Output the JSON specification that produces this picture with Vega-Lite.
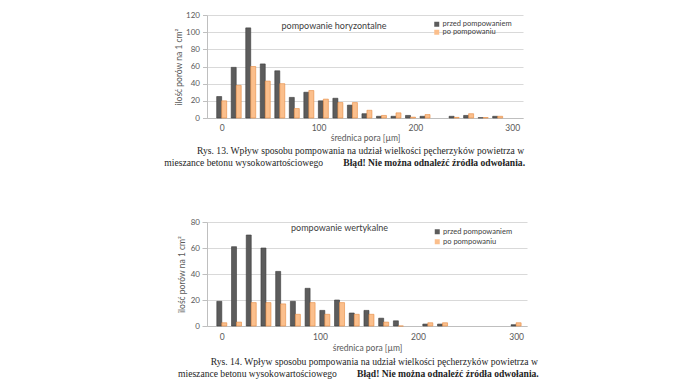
{
  "$schema": "https://vega.github.io/schema/vega-lite/v6.json",
  "background": "white",
  "padding": {"left": 164, "top": 11, "right": 5, "bottom": 5},
  "resolve": {"scale": {"color": "independent"}, "legend": {"color": "independent"}},
  "datasets": {
    "top": [
      {"d": 0, "s": "przed pompowaniem", "v": 25}, {"d": 0, "s": "po pompowaniu", "v": 20},
      {"d": 15, "s": "przed pompowaniem", "v": 59}, {"d": 15, "s": "po pompowaniu", "v": 38},
      {"d": 30, "s": "przed pompowaniem", "v": 105}, {"d": 30, "s": "po pompowaniu", "v": 60},
      {"d": 45, "s": "przed pompowaniem", "v": 63}, {"d": 45, "s": "po pompowaniu", "v": 43},
      {"d": 60, "s": "przed pompowaniem", "v": 55}, {"d": 60, "s": "po pompowaniu", "v": 40},
      {"d": 75, "s": "przed pompowaniem", "v": 24}, {"d": 75, "s": "po pompowaniu", "v": 11},
      {"d": 90, "s": "przed pompowaniem", "v": 30}, {"d": 90, "s": "po pompowaniu", "v": 32},
      {"d": 105, "s": "przed pompowaniem", "v": 20}, {"d": 105, "s": "po pompowaniu", "v": 22},
      {"d": 120, "s": "przed pompowaniem", "v": 23}, {"d": 120, "s": "po pompowaniu", "v": 18},
      {"d": 135, "s": "przed pompowaniem", "v": 15}, {"d": 135, "s": "po pompowaniu", "v": 18},
      {"d": 150, "s": "przed pompowaniem", "v": 5}, {"d": 150, "s": "po pompowaniu", "v": 9},
      {"d": 165, "s": "przed pompowaniem", "v": 2}, {"d": 165, "s": "po pompowaniu", "v": 3},
      {"d": 180, "s": "przed pompowaniem", "v": 2}, {"d": 180, "s": "po pompowaniu", "v": 6},
      {"d": 195, "s": "przed pompowaniem", "v": 3}, {"d": 195, "s": "po pompowaniu", "v": 1},
      {"d": 210, "s": "przed pompowaniem", "v": 2}, {"d": 210, "s": "po pompowaniu", "v": 4},
      {"d": 240, "s": "przed pompowaniem", "v": 2}, {"d": 240, "s": "po pompowaniu", "v": 0.7},
      {"d": 255, "s": "przed pompowaniem", "v": 3}, {"d": 255, "s": "po pompowaniu", "v": 5},
      {"d": 270, "s": "przed pompowaniem", "v": 0.4}, {"d": 270, "s": "po pompowaniu", "v": 0.5},
      {"d": 285, "s": "przed pompowaniem", "v": 2}, {"d": 285, "s": "po pompowaniu", "v": 2}
    ],
    "bottom": [
      {"d": 0, "s": "przed pompowaniem", "v": 19}, {"d": 0, "s": "po pompowaniu", "v": 2.5},
      {"d": 15, "s": "przed pompowaniem", "v": 61}, {"d": 15, "s": "po pompowaniu", "v": 3},
      {"d": 30, "s": "przed pompowaniem", "v": 70}, {"d": 30, "s": "po pompowaniu", "v": 18},
      {"d": 45, "s": "przed pompowaniem", "v": 60}, {"d": 45, "s": "po pompowaniu", "v": 18},
      {"d": 60, "s": "przed pompowaniem", "v": 42}, {"d": 60, "s": "po pompowaniu", "v": 17},
      {"d": 75, "s": "przed pompowaniem", "v": 19}, {"d": 75, "s": "po pompowaniu", "v": 9},
      {"d": 90, "s": "przed pompowaniem", "v": 29}, {"d": 90, "s": "po pompowaniu", "v": 18},
      {"d": 105, "s": "przed pompowaniem", "v": 12}, {"d": 105, "s": "po pompowaniu", "v": 9},
      {"d": 120, "s": "przed pompowaniem", "v": 20}, {"d": 120, "s": "po pompowaniu", "v": 18},
      {"d": 135, "s": "przed pompowaniem", "v": 10}, {"d": 135, "s": "po pompowaniu", "v": 9},
      {"d": 150, "s": "przed pompowaniem", "v": 12}, {"d": 150, "s": "po pompowaniu", "v": 9},
      {"d": 165, "s": "przed pompowaniem", "v": 6}, {"d": 165, "s": "po pompowaniu", "v": 3},
      {"d": 180, "s": "przed pompowaniem", "v": 4}, {"d": 180, "s": "po pompowaniu", "v": 0},
      {"d": 210, "s": "przed pompowaniem", "v": 1.5}, {"d": 210, "s": "po pompowaniu", "v": 2.5},
      {"d": 225, "s": "przed pompowaniem", "v": 1.5}, {"d": 225, "s": "po pompowaniu", "v": 2.5},
      {"d": 300, "s": "przed pompowaniem", "v": 1}, {"d": 300, "s": "po pompowaniu", "v": 2.5}
    ],
    "cap13": [
      {"line": 1, "part": "a", "t": "Rys. 13. Wpływ sposobu pompowania na udział wielkości pęcherzyków powietrza w"},
      {"line": 2, "part": "b", "t": "mieszance betonu wysokowartościowego"},
      {"line": 2, "part": "c", "t": "Błąd! Nie można odnaleźć źródła odwołania."}
    ],
    "cap14": [
      {"line": 1, "part": "a", "t": "Rys. 14. Wpływ sposobu pompowania na udział wielkości pęcherzyków powietrza w"},
      {"line": 2, "part": "b", "t": "mieszance betonu wysokowartościowego"},
      {"line": 2, "part": "c", "t": "Błąd! Nie można odnaleźć źródła odwołania."}
    ]
  },
  "spacing": 49,
  "vconcat": [
    {
      "spacing": 3,
      "vconcat": [
        {
          "width": 316,
          "height": 103,
          "data": {"name": "top"},
          "layer": [
            {
              "transform": [{"filter": "datum.s == 'przed pompowaniem'"}],
              "mark": {"type": "bar", "orient": "vertical", "size": 5, "xOffset": -2.5, "stroke": "#3a3a3a", "strokeWidth": 0.6},
              "encoding": {
                "x": {"field": "d", "type": "quantitative",
                  "scale": {"domain": [-10, 306], "nice": false, "zero": false},
                  "axis": {"values": [0, 100, 200, 300], "grid": false, "ticks": false, "tickSize": 0, "labelPadding": 5.75, "labelFlush": false, "title": "średnica pora [µm]", "titlePadding": 0.75}},
                "y": {"field": "v", "type": "quantitative",
                  "scale": {"domain": [0, 120], "nice": false},
                  "axis": {"values": [0, 20, 40, 60, 80, 100, 120], "grid": true, "tickSize": 4.5, "labelPadding": 3, "labelFontSize": 8, "labelOverlap": false, "title": "ilość porów na 1 cm²", "titlePadding": 2.5}},
                "color": {"field": "s", "type": "nominal",
                  "scale": {"domain": ["przed pompowaniem", "po pompowaniu"], "range": ["#5c5c5c", "#fbbf8c"]},
                  "legend": {"title": null, "orient": "none", "legendX": 226, "legendY": 5.5, "rowPadding": -3, "labelFontSize": 7.5}}
              }
            },
            {
              "transform": [{"filter": "datum.s == 'po pompowaniu'"}],
              "mark": {"type": "bar", "orient": "vertical", "size": 5, "xOffset": 2.5, "stroke": "#e58a40", "strokeWidth": 0.6},
              "encoding": {
                "x": {"field": "d", "type": "quantitative",
                  "scale": {"domain": [-10, 306], "nice": false, "zero": false},
                  "axis": {"values": [0, 100, 200, 300], "grid": false, "ticks": false, "tickSize": 0, "labelPadding": 5.75, "labelFlush": false, "title": "średnica pora [µm]", "titlePadding": 0.75}},
                "y": {"field": "v", "type": "quantitative",
                  "scale": {"domain": [0, 120], "nice": false},
                  "axis": {"values": [0, 20, 40, 60, 80, 100, 120], "grid": true, "tickSize": 4.5, "labelPadding": 3, "labelFontSize": 8, "labelOverlap": false, "title": "ilość porów na 1 cm²", "titlePadding": 2.5}},
                "color": {"field": "s", "type": "nominal"}
              }
            },
            {
              "data": {"values": [{"t": "pompowanie horyzontalne"}]},
              "mark": {"type": "text", "font": "Lato", "fontSize": 9, "color": "#404040", "baseline": "middle", "align": "center"},
              "encoding": {
                "x": {"datum": 116, "type": "quantitative",
                  "scale": {"domain": [-10, 306], "nice": false, "zero": false},
                  "axis": {"values": [0, 100, 200, 300], "grid": false, "ticks": false, "tickSize": 0, "labelPadding": 5.75, "labelFlush": false, "title": "średnica pora [µm]", "titlePadding": 0.75}},
                "y": {"datum": 107, "type": "quantitative",
                  "scale": {"domain": [0, 120], "nice": false},
                  "axis": {"values": [0, 20, 40, 60, 80, 100, 120], "grid": true, "tickSize": 4.5, "labelPadding": 3, "labelFontSize": 8, "labelOverlap": false, "title": "ilość porów na 1 cm²", "titlePadding": 2.5}},
                "text": {"field": "t", "type": "nominal"}
              }
            }
          ]
        },
        {
          "width": 330,
          "height": 24,
          "data": {"name": "cap13"},
          "encoding": {"y": {"field": "line", "type": "ordinal", "axis": null}, "text": {"field": "t"}},
          "layer": [
            {"transform": [{"filter": "datum.part == 'a'"}], "mark": {"type": "text", "align": "left", "font": "Liberation Serif", "fontSize": 9.6, "color": "#1e1e1e"},
              "encoding": {"x": {"datum": -10, "type": "quantitative", "scale": {"domain": [0, 330], "nice": false, "zero": false}, "axis": null}}},
            {"transform": [{"filter": "datum.part == 'b'"}], "mark": {"type": "text", "align": "left", "font": "Liberation Serif", "fontSize": 9.6, "color": "#1e1e1e"},
              "encoding": {"x": {"datum": -42.7, "type": "quantitative", "axis": null}}},
            {"transform": [{"filter": "datum.part == 'c'"}], "mark": {"type": "text", "align": "left", "font": "Liberation Serif", "fontSize": 9.6, "fontWeight": "bold", "color": "#1e1e1e"},
              "encoding": {"x": {"datum": 136.3, "type": "quantitative", "axis": null}}}
          ]
        }
      ]
    },
    {
      "spacing": 2.5,
      "vconcat": [
        {
          "width": 320,
          "height": 104,
          "data": {"name": "bottom"},
          "layer": [
            {
              "transform": [{"filter": "datum.s == 'przed pompowaniem'"}],
              "mark": {"type": "bar", "orient": "vertical", "size": 5, "xOffset": -2.5, "stroke": "#3a3a3a", "strokeWidth": 0.6},
              "encoding": {
                "x": {"field": "d", "type": "quantitative",
                  "scale": {"domain": [-10, 306], "nice": false, "zero": false},
                  "axis": {"values": [0, 100, 200, 300], "grid": false, "ticks": false, "tickSize": 0, "labelPadding": 6.45, "labelFlush": false, "title": "średnica pora [µm]", "titlePadding": 2.75}},
                "y": {"field": "v", "type": "quantitative",
                  "scale": {"domain": [0, 80], "nice": false},
                  "axis": {"values": [0, 20, 40, 60, 80], "grid": true, "tickSize": 5, "labelPadding": 2.5, "labelFontSize": 8, "labelOverlap": false, "title": "ilość porów na 1 cm²", "titlePadding": 4}},
                "color": {"field": "s", "type": "nominal",
                  "scale": {"domain": ["przed pompowaniem", "po pompowaniu"], "range": ["#5c5c5c", "#fbbf8c"]},
                  "legend": {"title": null, "orient": "none", "legendX": 226.5, "legendY": 6, "rowPadding": 1, "labelFontSize": 7.5}}
              }
            },
            {
              "transform": [{"filter": "datum.s == 'po pompowaniu'"}],
              "mark": {"type": "bar", "orient": "vertical", "size": 5, "xOffset": 2.5, "stroke": "#e58a40", "strokeWidth": 0.6},
              "encoding": {
                "x": {"field": "d", "type": "quantitative",
                  "scale": {"domain": [-10, 306], "nice": false, "zero": false},
                  "axis": {"values": [0, 100, 200, 300], "grid": false, "ticks": false, "tickSize": 0, "labelPadding": 6.45, "labelFlush": false, "title": "średnica pora [µm]", "titlePadding": 2.75}},
                "y": {"field": "v", "type": "quantitative",
                  "scale": {"domain": [0, 80], "nice": false},
                  "axis": {"values": [0, 20, 40, 60, 80], "grid": true, "tickSize": 5, "labelPadding": 2.5, "labelFontSize": 8, "labelOverlap": false, "title": "ilość porów na 1 cm²", "titlePadding": 4}},
                "color": {"field": "s", "type": "nominal"}
              }
            },
            {
              "data": {"values": [{"t": "pompowanie wertykalne"}]},
              "mark": {"type": "text", "font": "Lato", "fontSize": 9, "color": "#404040", "baseline": "middle", "align": "center"},
              "encoding": {
                "x": {"datum": 120, "type": "quantitative",
                  "scale": {"domain": [-10, 306], "nice": false, "zero": false},
                  "axis": {"values": [0, 100, 200, 300], "grid": false, "ticks": false, "tickSize": 0, "labelPadding": 6.45, "labelFlush": false, "title": "średnica pora [µm]", "titlePadding": 2.75}},
                "y": {"datum": 75.4, "type": "quantitative",
                  "scale": {"domain": [0, 80], "nice": false},
                  "axis": {"values": [0, 20, 40, 60, 80], "grid": true, "tickSize": 5, "labelPadding": 2.5, "labelFontSize": 8, "labelOverlap": false, "title": "ilość porów na 1 cm²", "titlePadding": 4}},
                "text": {"field": "t", "type": "nominal"}
              }
            }
          ]
        },
        {
          "width": 330,
          "height": 24,
          "data": {"name": "cap14"},
          "encoding": {"y": {"field": "line", "type": "ordinal", "axis": null}, "text": {"field": "t"}},
          "layer": [
            {"transform": [{"filter": "datum.part == 'a'"}], "mark": {"type": "text", "align": "left", "font": "Liberation Serif", "fontSize": 9.6, "color": "#1e1e1e"},
              "encoding": {"x": {"datum": 3.7, "type": "quantitative", "scale": {"domain": [0, 330], "nice": false, "zero": false}, "axis": null}}},
            {"transform": [{"filter": "datum.part == 'b'"}], "mark": {"type": "text", "align": "left", "font": "Liberation Serif", "fontSize": 9.6, "color": "#1e1e1e"},
              "encoding": {"x": {"datum": -29, "type": "quantitative", "axis": null}}},
            {"transform": [{"filter": "datum.part == 'c'"}], "mark": {"type": "text", "align": "left", "font": "Liberation Serif", "fontSize": 9.6, "fontWeight": "bold", "color": "#1e1e1e"},
              "encoding": {"x": {"datum": 150, "type": "quantitative", "axis": null}}}
          ]
        }
      ]
    }
  ],
  "config": {
    "view": {"stroke": null},
    "font": "Lato",
    "axis": {"labelFont": "Lato", "titleFont": "Lato", "labelFontSize": 8.5, "titleFontSize": 8.5, "titleFontWeight": "normal", "minExtent": 0,
      "labelColor": "#595959", "titleColor": "#595959", "domainColor": "#bfbfbf", "tickColor": "#bfbfbf", "gridColor": "#d9d9d9"},
    "axisY": {"minExtent": 0},
    "legend": {"labelFont": "Lato", "labelColor": "#404040", "symbolType": "square", "symbolSize": 25, "symbolStrokeWidth": 0, "labelOffset": 2, "padding": 0}
  }
}
